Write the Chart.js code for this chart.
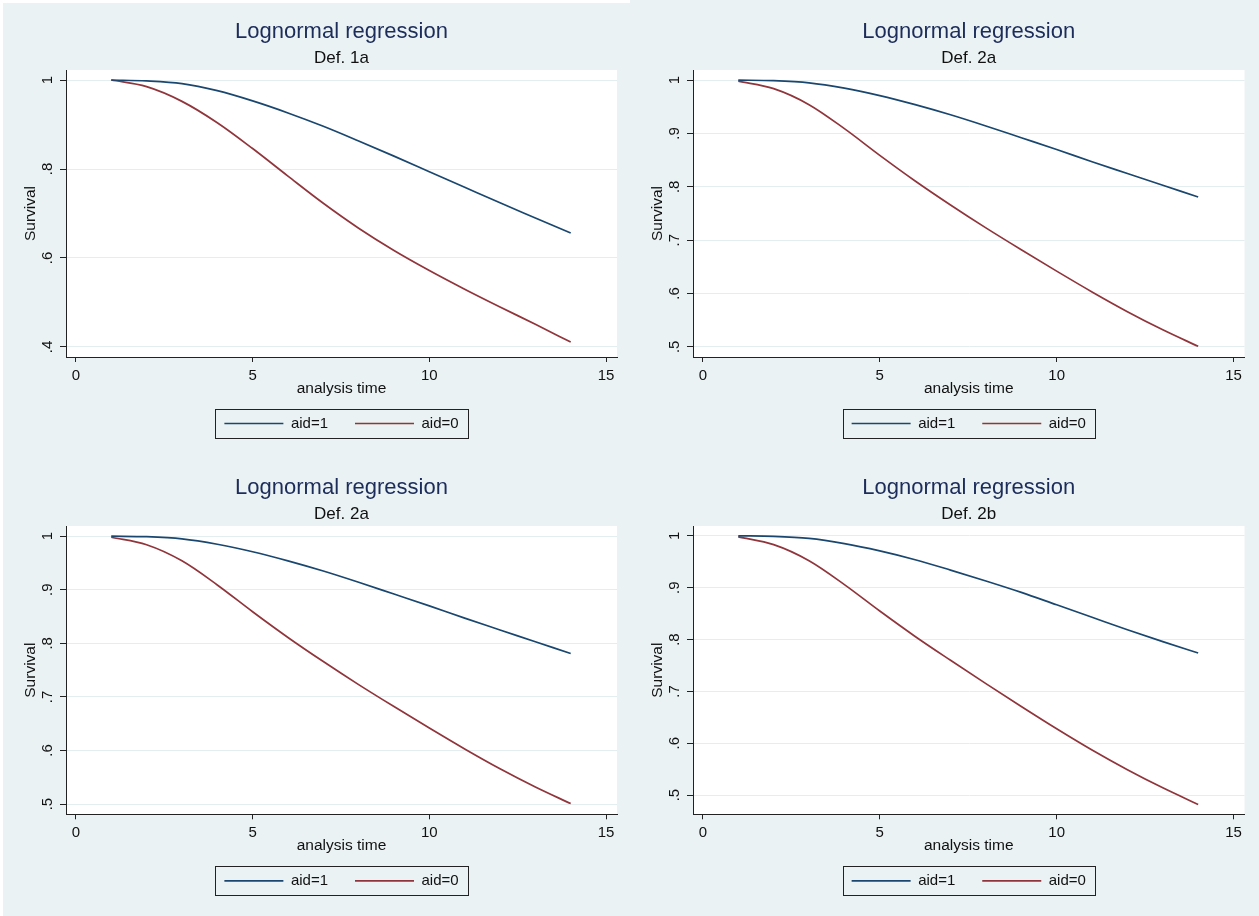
<!DOCTYPE html>
<html>
<head>
<meta charset="utf-8">
<title>Lognormal regression</title>
<script src="https://cdn.jsdelivr.net/npm/chart.js@4.4.1/dist/chart.umd.min.js"></script>
<style>
  html, body { margin: 0; padding: 0; background: #eaf2f3; }
  body { width: 1259px; height: 916px; position: relative; overflow: hidden; }
  .panel { position: absolute; }
  .panel canvas { display: block; }
  .edge { position: absolute; background: #fff; }
</style>
</head>
<body>
<div class="edge" style="left:0;top:0;width:3px;height:916px"></div>
<div class="edge" style="left:0;top:0;width:630px;height:3px"></div>

<div class="panel" style="left:0;top:0"><canvas id="p1" width="629" height="456"></canvas></div>
<div class="panel" style="left:627px;top:0"><canvas id="p2" width="632" height="456"></canvas></div>
<div class="panel" style="left:0;top:456px"><canvas id="p3" width="629" height="460"></canvas></div>
<div class="panel" style="left:627px;top:456px"><canvas id="p4" width="632" height="460"></canvas></div>

<script>
// analysis time points
const times = [1, 2, 3, 4, 5, 6, 7, 8, 9, 10, 11, 12, 13, 14];
const xTickValues = [0, 5, 10, 15];
const seriesLabels = ['aid=1', 'aid=0'];

// Def. 1a
const def1aAid1 = [1.000, 0.998, 0.992, 0.976, 0.953, 0.926, 0.896, 0.863, 0.829, 0.794, 0.759, 0.724, 0.690, 0.656];
const def1aAid0 = [1.000, 0.985, 0.952, 0.904, 0.846, 0.784, 0.723, 0.667, 0.617, 0.572, 0.530, 0.490, 0.451, 0.411];
const yTicksDef1a = [0.4, 0.6, 0.8, 1];

// Def. 2a
const def2aAid1 = [1.000, 0.999, 0.995, 0.985, 0.971, 0.954, 0.935, 0.914, 0.892, 0.870, 0.847, 0.825, 0.803, 0.781];
const def2aAid0 = [0.998, 0.984, 0.954, 0.909, 0.859, 0.811, 0.766, 0.723, 0.682, 0.642, 0.603, 0.566, 0.532, 0.501];

// Def. 2b
const def2bAid1 = [1.000, 0.999, 0.995, 0.985, 0.971, 0.954, 0.934, 0.913, 0.891, 0.867, 0.843, 0.819, 0.796, 0.774];
const def2bAid0 = [0.998, 0.983, 0.952, 0.906, 0.855, 0.806, 0.760, 0.715, 0.671, 0.628, 0.587, 0.549, 0.514, 0.482];

const yTicksDef2 = [0.5, 0.6, 0.7, 0.8, 0.9, 1];

const lineColors = ['#1a476f', '#90353b'];

Chart.defaults.font.family = '"Liberation Sans", Arial, Helvetica, sans-serif';
Chart.defaults.color = '#111';

// white plot region like Stata
const plotBg = {
    id: 'plotBg',
    beforeDraw(chart) {
        const { ctx, chartArea: a } = chart;
        ctx.save();
        ctx.fillStyle = '#ffffff';
        ctx.fillRect(a.left, a.top, a.right - a.left, a.bottom - a.top);
        ctx.restore();
    }
};

// frame around the legend
const legendFrame = {
    id: 'legendFrame',
    afterDraw(chart) {
        const boxes = chart.legend && chart.legend.legendHitBoxes;
        if (!boxes || !boxes.length) return;
        const first = boxes[0];
        const last = boxes[boxes.length - 1];
        const cy = first.top + first.height / 2;
        const left = Math.round(first.left - 9) + 0.5;
        const right = Math.round(last.left + last.width + 9) + 0.5;
        const top = Math.round(cy - 14.5) + 0.5;
        const bottom = Math.round(cy + 14.5) + 0.5;
        const ctx = chart.ctx;
        ctx.save();
        ctx.strokeStyle = '#222';
        ctx.lineWidth = 1;
        ctx.strokeRect(left, top, right - left, bottom - top);
        ctx.restore();
    }
};

function fmtTick(v) {
    if (Math.abs(v - 1) < 1e-9) return '1';
    return v.toFixed(1).replace(/^0/, '');
}

function makePanel(id, subtitle, aid1, aid0, yMin, yMax, yTicks, padRight, padBottom) {
    const toPoints = arr => times.map((t, i) => ({ x: t, y: arr[i] }));
    new Chart(document.getElementById(id), {
        type: 'line',
        data: {
            datasets: [aid1, aid0].map((arr, i) => ({
                label: seriesLabels[i],
                data: toPoints(arr),
                borderColor: lineColors[i],
                backgroundColor: lineColors[i],
                borderWidth: 1.7,
                pointRadius: 0,
                fill: false,
                cubicInterpolationMode: 'monotone'
            }))
        },
        options: {
            responsive: false,
            animation: false,
            layout: { padding: { top: 0, left: 0, right: padRight, bottom: padBottom } },
            scales: {
                x: {
                    type: 'linear',
                    min: -0.28,
                    max: 15.31,
                    afterBuildTicks: s => { s.ticks = xTickValues.map(v => ({ value: v })); },
                    afterFit: s => { s.height = 32; },
                    grid: { drawOnChartArea: false, drawTicks: true, tickLength: 5, tickColor: '#222', tickWidth: 1 },
                    border: { display: true, color: '#222', width: 1 },
                    ticks: { color: '#111', font: { size: 15 }, padding: 5, minRotation: 0, maxRotation: 0, autoSkip: false },
                    title: { display: true, text: 'analysis time', color: '#111', font: { size: 15.5 }, padding: { top: 0, bottom: -9 } }
                },
                y: {
                    type: 'linear',
                    min: yMin,
                    max: yMax,
                    afterBuildTicks: s => { s.ticks = yTicks.map(v => ({ value: v })); },
                    afterFit: s => { s.width = 66; },
                    grid: { color: '#e4edf0', lineWidth: 1, drawTicks: true, tickLength: 6, tickColor: '#222', tickWidth: 1 },
                    border: { display: true, color: '#222', width: 1 },
                    ticks: {
                        color: '#111', font: { size: 15 }, padding: 6,
                        minRotation: 90, maxRotation: 90, crossAlign: 'center', autoSkip: false,
                        callback: v => fmtTick(v)
                    },
                    title: { display: true, text: 'Survival', color: '#111', font: { size: 15.5 }, padding: { top: 21.4, bottom: 0 } }
                }
            },
            plugins: {
                title: {
                    display: true, text: 'Lognormal regression', color: '#1c2c5b',
                    font: { size: 22, weight: 'normal' }, padding: { top: 19, bottom: 0 }, fullSize: false
                },
                subtitle: {
                    display: true, text: subtitle, color: '#111',
                    font: { size: 17, weight: 'normal' }, padding: { top: 3.2, bottom: 1 }, fullSize: false
                },
                legend: {
                    position: 'bottom',
                    fullSize: false,
                    labels: {
                        usePointStyle: true, pointStyle: 'line', pointStyleWidth: 59,
                        padding: 27, color: '#111', font: { size: 15 }
                    }
                },
                tooltip: { enabled: false }
            }
        },
        plugins: [plotBg, legendFrame]
    });
}

makePanel('p1', 'Def. 1a', def1aAid1, def1aAid0, 0.3775, 1.0225, yTicksDef1a, 12, 15);
makePanel('p2', 'Def. 2a', def2aAid1, def2aAid0, 0.481, 1.019, yTicksDef2, 14.5, 15);
makePanel('p3', 'Def. 2a', def2aAid1, def2aAid0, 0.481, 1.019, yTicksDef2, 12, 17.7);
makePanel('p4', 'Def. 2b', def2bAid1, def2bAid0, 0.463, 1.019, yTicksDef2, 14.5, 17.7);
</script>
</body>
</html>
